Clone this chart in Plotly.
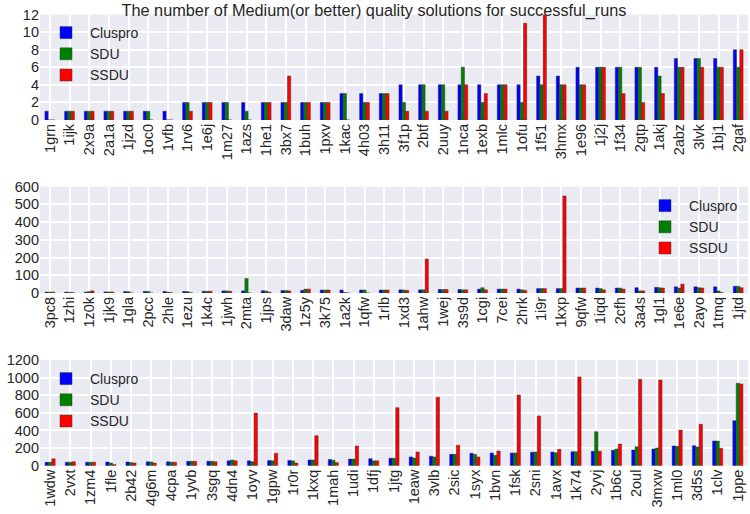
import plotly.graph_objects as go

# ---------------- data ----------------
series_names = ["Cluspro", "SDU", "SSDU"]
series_colors = ["#0000FF", "#008000", "#FF0000"]

cats_top = ["1grn", "1ijk", "2x9a", "2a1a", "1jzd", "1oc0", "1vfb", "1rv6", "1e6j", "1m27",
            "1azs", "1he1", "3bx7", "1buh", "1pxv", "1kac", "4h03", "3h11", "3f1p", "2btf",
            "2uuy", "1nca", "1exb", "1mlc", "1ofu", "1f51", "3hmx", "1e96", "1j2j", "1f34",
            "2gtp", "1akj", "2abz", "3lvk", "1bj1", "2gaf"]
cluspro_top = [1, 1, 1, 1, 1, 1, 1, 2, 2, 2, 2, 2, 2, 2, 2, 3, 3, 3, 4, 4,
               4, 4, 4, 4, 4, 5, 5, 6, 6, 6, 6, 6, 7, 7, 7, 8]
sdu_top = [0, 1, 1, 1, 1, 1, 0, 2, 2, 2, 1, 2, 2, 2, 2, 3, 2, 3, 2, 4,
           4, 6, 2, 4, 2, 4, 4, 4, 6, 6, 6, 5, 6, 7, 6, 6]
ssdu_top = [0, 1, 1, 1, 1, 0, 0, 1, 2, 0, 0, 2, 5, 2, 2, 0, 2, 3, 1, 1,
            1, 4, 3, 4, 11, 12, 4, 4, 6, 3, 2, 3, 6, 6, 6, 8]

cats_mid = ["3pc8", "1zhi", "1z0k", "1jk9", "1gla", "2pcc", "2hle", "1ezu", "1k4c", "1jwh",
            "2mta", "1jps", "3daw", "1z5y", "3k75", "1a2k", "1qfw", "1rlb", "1xd3", "1ahw",
            "1wej", "3s9d", "1cgi", "7cei", "2hrk", "1i9r", "1kxp", "9qfw", "1iqd", "2cfh",
            "3a4s", "1gl1", "1e6e", "2ayo", "1tmq", "1jtd"]
cluspro_mid = [5, 5, 5, 6, 8, 9, 9, 9, 10, 12, 12, 13, 14, 15, 17, 17, 17, 17, 18, 18,
               20, 20, 22, 22, 22, 25, 25, 28, 28, 28, 30, 32, 35, 35, 35, 38]
sdu_mid = [5, 4, 8, 6, 8, 9, 5, 8, 10, 12, 82, 11, 14, 22, 17, 3, 17, 17, 17, 18,
           20, 18, 30, 22, 18, 25, 25, 28, 25, 28, 12, 30, 28, 30, 12, 38]
ssdu_mid = [5, 2, 12, 6, 0, 0, 2, 2, 10, 10, 0, 5, 12, 22, 17, 0, 0, 17, 15, 192,
            20, 18, 18, 22, 15, 25, 548, 28, 18, 22, 12, 28, 50, 28, 2, 30]

cats_bot = ["1wdw", "2vxt", "1zm4", "1fle", "2b42", "4g6m", "4cpa", "1yvb", "3sgq", "4dn4",
            "1oyv", "1gpw", "1r0r", "1kxq", "1mah", "1udi", "1dfj", "1jtg", "1eaw", "3vlb",
            "2sic", "1syx", "1bvn", "1fsk", "2sni", "1avx", "1k74", "2yvj", "1b6c", "2oul",
            "3mxw", "1ml0", "3d5s", "1clv", "1ppe"]
cluspro_bot = [38, 40, 40, 42, 42, 45, 45, 50, 50, 55, 55, 58, 60, 65, 70, 75, 80, 85, 100, 108,
               129, 141, 144, 145, 152, 155, 159, 163, 175, 178, 190, 224, 227, 281, 511]
sdu_bot = [40, 40, 40, 30, 35, 42, 40, 50, 50, 65, 45, 55, 55, 65, 62, 75, 55, 85, 87, 99,
           130, 130, 118, 145, 155, 148, 159, 386, 190, 216, 201, 220, 212, 280, 936]
ssdu_bot = [78, 45, 40, 15, 30, 30, 40, 50, 45, 55, 597, 141, 30, 341, 35, 224, 55, 659, 156, 777,
            232, 99, 167, 803, 565, 186, 1008, 165, 246, 981, 974, 405, 470, 198, 928]

panels = [
    (cats_top, [cluspro_top, sdu_top, ssdu_top], [0, 12], 2),
    (cats_mid, [cluspro_mid, sdu_mid, ssdu_mid], [0, 600], 100),
    (cats_bot, [cluspro_bot, sdu_bot, ssdu_bot], [0, 1200], 200),
]

# ---------------- layout geometry ----------------
W, H = 750, 514
x_dom = [40 / W, 748 / W]
y_doms = [
    [(H - 120) / H, (H - 14.5) / H],
    [(H - 293) / H, (H - 186.7) / H],
    [(H - 465.7) / H, (H - 360) / H],
]
legend_pos = [
    dict(x=42 / W, y=1 - 17 / H, xanchor="left", yanchor="top"),
    dict(x=641 / W, y=1 - 190 / H, xanchor="left", yanchor="top"),
    dict(x=42 / W, y=1 - 363 / H, xanchor="left", yanchor="top"),
]

text_color = "#262626"
font_family = "Liberation Sans, Arial, sans-serif"

fig = go.Figure()
layout = dict(
    width=W, height=H,
    margin=dict(l=0, r=0, t=0, b=0, autoexpand=False),
    paper_bgcolor="white",
    plot_bgcolor="#EAEAF2",
    barmode="group",
    bargap=0.5,
    bargroupgap=0,
    font=dict(family=font_family, color=text_color, size=14),
    title=dict(text="The number of Medium(or better) quality solutions for successful_runs",
               x=374 / W, xanchor="center", y=1 - 10 / H, yanchor="middle",
               font=dict(size=16.3, color=text_color)),
)

for p, (cats, vals, yr, dt) in enumerate(panels):
    idx = "" if p == 0 else str(p + 1)
    xa, ya = "x" + idx, "y" + idx
    leg = "legend" + idx
    for s in range(3):
        fig.add_trace(go.Bar(
            x=cats, y=vals[s], name=series_names[s],
            marker=dict(color=series_colors[s],
                        line=dict(color="rgba(50,50,50,0.75)", width=0.6)),
            xaxis=xa, yaxis=ya, legend=leg, offsetgroup=str(s),
        ))
    layout["xaxis" + idx] = dict(
        domain=x_dom, anchor=ya, type="category",
        categoryorder="array", categoryarray=cats,
        range=[-0.5, len(cats) - 0.5], automargin=False,
        tickangle=-90, showgrid=True, gridcolor="white", gridwidth=1.5,
        zeroline=False, showline=False, ticks="",
        tickfont=dict(size=14.5, color=text_color),
    )
    layout["yaxis" + idx] = dict(
        domain=y_doms[p], anchor=xa, range=yr, dtick=dt, automargin=False,
        showgrid=True, gridcolor="white", gridwidth=1.5,
        zeroline=False, showline=False, ticks="",
        tickfont=dict(size=14.5, color=text_color),
    )
    layout[leg] = dict(**legend_pos[p], bgcolor="rgba(0,0,0,0)",
                       font=dict(size=14, color=text_color),
                       tracegroupgap=0, itemwidth=38)

fig.update_layout(**layout)
fig.write_html("out.html", config={"displayModeBar": False},
               post_script="document.body.style.margin='0';document.body.style.overflow='hidden';")
